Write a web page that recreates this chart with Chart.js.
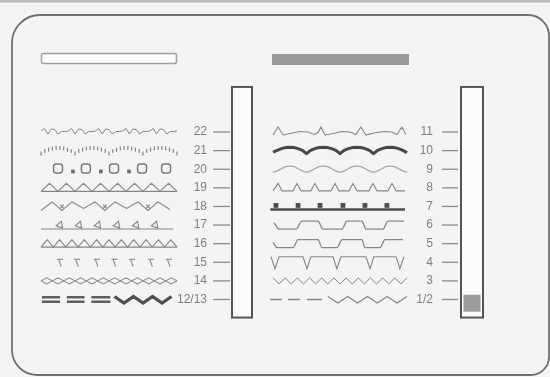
<!DOCTYPE html>
<html><head><meta charset="utf-8">
<script src="https://cdn.jsdelivr.net/npm/chart.js@4.4.1/dist/chart.umd.min.js"></script>
<style>
html,body{margin:0;padding:0;background:#f3f3f3;overflow:hidden;width:550px;height:377px}
#wrap{position:absolute;left:-20px;top:-20px;width:590px;height:417px}
</style></head><body>
<div id="wrap"><canvas id="c"></canvas></div>
<script>
// ---------------- data ----------------
const leftLabels  = ['22','21','20','19','18','17','16','15','14','12/13'];
const rightLabels = ['11','10','9','8','7','6','5','4','3','1/2'];
const selectedStitch = '1/2';

// stitch shapes: plain numbers = evenly spaced samples along the row,
// [u, v] pairs = u (0..100 along the row), v (stitch amplitude, up positive); null = gap
const stitch22 = [0.2,0.7,-0.4,0.6,0.5,-0.4,0.1,0.1, 0.2,0.7,-0.4,0.6,0.5,-0.4,0.1,0.1, 0.2,0.7,-0.4,0.6,0.5,-0.4,0.1,0.1, 0.2,0.7,-0.4,0.6,0.5,-0.4,0.1,0.1, 0.2,0.7,-0.4,0.6,0.5,-0.4,0.1,0.1, 0.2];
const stitch21 = [-0.6,-0.1,0.2,0.4,0.5,0.5,0.4,0.2,-0.1, -0.6,-0.1,0.2,0.4,0.5,0.5,0.4,0.2,-0.1, -0.6,-0.1,0.2,0.4,0.5,0.5,0.4,0.2,-0.1, -0.6,-0.1,0.2,0.4,0.5,0.5,0.4,0.2,-0.1, -0.6];
const stitch20Rings = [[12.5,0.15],[33,0.15],[53.7,0.15],[74.3,0.15],[92,0.15]];
const stitch20Knots = [[23.5,-0.45],[44,-0.45],[64.7,-0.45]];
const stitch19 = [-0.7,0.9,-0.7,0.9,-0.7,0.9,-0.7,0.9,-0.7,0.9,-0.7,0.9,-0.7,0.9,-0.7,0.9,-0.7];
const stitch19Base = [-0.7,-0.7];
const stitch18 = [[0,-0.8],[8.1,0.9],[15.4,-0.8],[22.8,0.9],[31.3,-0.4],[39.7,0.9],[47,-0.8],[54.4,0.9],[62.9,-0.4],[71.3,0.9],[78.7,-0.8],[86,0.9],[94.8,-0.6]];
const stitch18Knots = [[15.4,0],[47,0],[78.7,0]];
const stitch17Base = [[0,-0.8],[97,-0.8]];
const stitch17Loops = [[14,0],[28,0],[42,0],[56,0],[70,0],[84,0]];
const stitch16 = [-0.7,0.8,-0.7,0.8,-0.7,0.8,-0.7,0.8,-0.7,0.8,-0.7,0.8,-0.7,0.8,-0.7,0.8,-0.7,0.8,-0.7,0.8,-0.7,0.8,-0.7];
const stitch16Base = [-0.7,-0.7];
const stitch15Bars  = [[14,0.6],[26.5,0.6],[41,0.6],[54,0.6],[66.9,0.6],[81,0.6],[94,0.6]];
const stitch15Stems = [[14,-0.2],[26.5,-0.2],[41,-0.2],[54,-0.2],[66.9,-0.2],[81,-0.2],[94,-0.2]];
const stitch14a = [0,0.6,0,-0.6,0,0.6,0,-0.6,0,0.6,0,-0.6,0,0.6,0,-0.6,0,0.6,0,-0.6,0,0.6,0,-0.6,0];
const stitch14b = [0,-0.6,0,0.6,0,-0.6,0,0.6,0,-0.6,0,0.6,0,-0.6,0,0.6,0,-0.6,0,0.6,0,-0.6,0,0.6,0];
const stitch1213BarsTop = [[0.7,0.45],[14,0.45],null,[19,0.45],[32,0.45],null,[37,0.45],[51,0.45]];
const stitch1213BarsLow = [[0.7,-0.45],[14,-0.45],null,[19,-0.45],[32,-0.45],null,[37,-0.45],[51,-0.45]];
const stitch1213Zig = [[54,0.6],[61,-0.7],[68,0.6],[75,-0.7],[82,0.6],[89,-0.7],[96,0.6]];

const stitch11 = [[0,-0.6],[3.7,1.0],[7.5,-0.6],[12.7,-0.3],[20.1,0.1],[26.1,0],[30.6,-0.5],[33.6,-0.1],[35.8,1.0],[38.8,-0.6],[44.8,-0.3],[51.5,0.1],[57.4,0],[61.9,-0.5],[65.6,1.0],[69.4,-0.6],[75.3,-0.2],[82.8,0.1],[88.8,0],[92.5,-0.5],[96.2,1.0],[99.2,-0.5]];
const stitch10 = [-0.3,0.05,0.4,0.6,0.65,0.6,0.4,0.05, -0.6,0.05,0.4,0.6,0.65,0.6,0.4,0.05, -0.6,0.05,0.4,0.6,0.65,0.6,0.4,0.05, -0.6,0.05,0.4,0.6,0.65,0.6,0.4,0.05, -0.4];
const stitch9 = [-0.6,-0.35,0.1,0.5,0.6,0.5,0.1,-0.35, -0.6,-0.35,0.1,0.5,0.6,0.5,0.1,-0.35, -0.6,-0.35,0.1,0.5,0.6,0.5,0.1,-0.35, -0.6,-0.35,0.1,0.5,0.6,0.5,0.1,-0.35, -0.6];
const stitch8 = [[0,-0.6],[3.7,0.9],[6.7,-0.6],[14.9,-0.6],[17.9,0.9],[20.9,-0.6],[28.3,-0.6],[31.3,0.9],[34.3,-0.6],[43.3,-0.6],[46.3,0.9],[49.2,-0.6],[56.7,-0.6],[59.7,0.9],[62.7,-0.6],[71.6,-0.6],[74.6,0.9],[77.6,-0.6],[85.8,-0.6],[88.8,0.9],[91.8,-0.6],[98.5,-0.6]];
const stitch7Base = [[-2,-0.6],[98.5,-0.6]];
const stitch7Knots = [[2.2,0.2],[18.7,0.2],[35.1,0.2],[52.2,0.2],[68.6,0.2],[85,0.2]];
const stitch6 = [[0.7,0.5],[4.5,-0.8],[17.2,-0.8],[21.6,0.8],[33.6,0.8],[37.3,-0.8],[51.5,-0.8],[55.2,0.8],[66.4,0.8],[69.4,-0.8],[82.1,-0.8],[85.8,0.8],[97.7,0.8]];
const stitch5 = [[0,0.3],[3,-0.8],[14.9,-0.8],[18.7,0.8],[33.6,0.8],[36.6,-0.8],[47.7,-0.8],[51.5,0.8],[66.4,0.8],[68.6,-0.8],[79.8,-0.8],[83.6,0.8],[97,0.8]];
const stitch4 = [[-1.5,1.1],[1.5,-1.3],[4.5,1.1],[22.4,1.1],[25.4,-1.3],[28.3,1.1],[44.8,1.1],[47.7,-1.3],[50.7,1.1],[69.4,1.1],[72.4,-1.3],[75.3,1.1],[91.8,1.1],[94.7,-1.3],[97.7,1.1]];
const stitch3 = [0.6,-0.6,0.6,-0.6,0.6,-0.6,0.6,-0.6,0.6,-0.6,0.6,-0.6,0.6,-0.6,0.6,-0.6,0.6,-0.6,0.6,-0.6,0.6,-0.6,0.6];
const stitch12Dashes = [[-2.2,0],[6.7,0],null,[11.2,0],[20.1,0],null,[25.4,0],[36.6,0]];
const stitch12Zig = [[41,0.6],[48.4,-0.7],[55.7,0.6],[63.1,-0.7],[70.5,0.6],[77.8,-0.7],[85.2,0.6],[92.6,-0.7],[100,0.6]];

// ---------------- layout / style ----------------
const COLS = { L: {x0: 41, len: 136}, R: {x0: 273, len: 134} };
const ROW_PX = 18.61, FIRST_ROW_PX = 132, VIEW_W = 550, VIEW_H = 377;
const Y_MIN = -FIRST_ROW_PX / ROW_PX, Y_MAX = Y_MIN + VIEW_H / ROW_PX;
const AMP = 5 / ROW_PX;
const LABEL_X = { L: 207, R: 433 };
const DASH_X = { L: 221.5, R: 450 };
const SLOTS = { L: {x0: 232, x1: 252}, R: {x0: 461, x1: 483} };
const SLOT_ROWS = [-2.42, 9.97];
const GRAY = '#868686', DARK = '#474747', LABEL = '#808080';

function pts(shape, col, row) {
  const c = COLS[col];
  const uniform = typeof shape[0] === 'number';
  return shape.map((p, i) => {
    if (p === null) return {x: NaN, y: NaN};
    const u = uniform ? i * 100 / (shape.length - 1) : p[0];
    const v = uniform ? p : p[1];
    return {x: c.x0 + u * c.len / 100, y: row - v * AMP};
  });
}
const L = l => leftLabels.indexOf(l), R = l => rightLabels.indexOf(l);

function line(data, o) {
  return Object.assign({data, showLine: true, pointRadius: 0, borderColor: GRAY, borderWidth: 1.1, spanGaps: false, fill: false}, o || {});
}
function marks(data, o) {
  return Object.assign({data, showLine: false, pointRadius: 3, pointStyle: 'circle', pointBorderColor: GRAY,
    pointBackgroundColor: 'rgba(0,0,0,0)', pointBorderWidth: 1.1}, o || {});
}

const datasets = [
  // indicator of the selected stitch in the right slot
  marks([{x: (SLOTS.R.x0 + SLOTS.R.x1) / 2, y: R(selectedStitch) + 0.2}], {pointStyle: 'rect', pointRadius: 12, pointBackgroundColor: '#9c9c9c', pointBorderWidth: 0}),
  // tick dashes
  marks(leftLabels.map((_, i) => ({x: DASH_X.L, y: i})), {pointStyle: 'line', pointRadius: 8.5, pointBorderWidth: 1.3, pointBorderColor: '#8c8c8c'}),
  marks(rightLabels.map((_, i) => ({x: DASH_X.R, y: i})), {pointStyle: 'line', pointRadius: 8, pointBorderWidth: 1.3, pointBorderColor: '#8c8c8c'}),
  // left column
  line(pts(stitch22, 'L', L('22')), {borderWidth: 1}),
  marks(pts(stitch21, 'L', L('21')), {pointStyle: 'line', pointRotation: 90, pointRadius: 2, pointBorderWidth: 1.2}),
  marks(pts(stitch20Rings, 'L', L('20')), {pointStyle: 'rectRounded', pointRadius: 5.2, pointBorderWidth: 1.5, pointBorderColor: '#7a7a7a'}),
  marks(pts(stitch20Knots, 'L', L('20')), {pointStyle: 'rect', pointRadius: 2.6, pointBackgroundColor: '#6c6c6c', pointBorderWidth: 0}),
  line(pts(stitch19, 'L', L('19'))),
  line(pts(stitch19Base, 'L', L('19'))),
  line(pts(stitch18, 'L', L('18'))),
  marks(pts(stitch18Knots, 'L', L('18')), {pointStyle: 'crossRot', pointRadius: 2.6}),
  line(pts(stitch17Base, 'L', L('17'))),
  marks(pts(stitch17Loops, 'L', L('17')), {pointStyle: 'triangle', pointRotation: 20, pointRadius: 4}),
  line(pts(stitch16, 'L', L('16'))),
  line(pts(stitch16Base, 'L', L('16'))),
  marks(pts(stitch15Bars, 'L', L('15')), {pointStyle: 'line', pointRadius: 3}),
  marks(pts(stitch15Stems, 'L', L('15')), {pointStyle: 'line', pointRotation: 70, pointRadius: 3.6}),
  line(pts(stitch14a, 'L', L('14'))),
  line(pts(stitch14b, 'L', L('14'))),
  line(pts(stitch1213BarsTop, 'L', L('12/13')), {borderColor: '#5e5e5e', borderWidth: 2.3}),
  line(pts(stitch1213BarsLow, 'L', L('12/13')), {borderColor: '#5e5e5e', borderWidth: 2.3}),
  line(pts(stitch1213Zig, 'L', L('12/13')), {borderColor: '#505050', borderWidth: 3.2}),
  // right column
  line(pts(stitch11, 'R', R('11'))),
  line(pts(stitch10, 'R', R('10')), {borderColor: DARK, borderWidth: 3}),
  line(pts(stitch9, 'R', R('9')), {borderColor: '#a6a6a6', borderWidth: 1.3, cubicInterpolationMode: 'monotone'}),
  line(pts(stitch8, 'R', R('8'))),
  line(pts(stitch7Base, 'R', R('7')), {borderColor: '#4e4e4e', borderWidth: 2.6}),
  marks(pts(stitch7Knots, 'R', R('7')), {pointStyle: 'rect', pointRadius: 3.4, pointBackgroundColor: '#4e4e4e', pointBorderWidth: 0}),
  line(pts(stitch6, 'R', R('6')), {cubicInterpolationMode: 'monotone', borderWidth: 1.3}),
  line(pts(stitch5, 'R', R('5')), {cubicInterpolationMode: 'monotone', borderWidth: 1.3}),
  line(pts(stitch4, 'R', R('4'))),
  line(pts(stitch3, 'R', R('3')), {borderWidth: 1}),
  line(pts(stitch12Dashes, 'R', R('1/2')), {borderWidth: 1.4}),
  line(pts(stitch12Zig, 'R', R('1/2')), {borderWidth: 1.2})
];

function labelAxis(labels, col) {
  return {
    type: 'linear', axis: 'y', reverse: true, min: Y_MIN, max: Y_MAX,
    position: {x: LABEL_X[col]},
    afterBuildTicks: a => { a.ticks = labels.map((_, i) => ({value: i})); },
    ticks: {autoSkip: false, padding: 0, color: LABEL, font: {family: 'Liberation Sans', size: 12},
      callback: v => labels[v]},
    grid: {display: false, drawTicks: false},
    border: {display: false}
  };
}

const panel = {
  id: 'panel',
  beforeDraw(chart) {
    const ctx = chart.ctx, ca = chart.chartArea;
    const xs = chart.scales.x, ys = chart.scales.y;
    const P = (x, y) => [ca.left + x, ca.top + y];
    ctx.save();
    ctx.fillStyle = '#f4f4f4';
    ctx.fillRect(ca.left, ca.top, VIEW_W, VIEW_H);
    ctx.fillStyle = '#b9b9b9';
    ctx.fillRect(ca.left, ca.top, VIEW_W, 2.5);
    // outer frame
    ctx.strokeStyle = '#707070'; ctx.lineWidth = 1.8;
    ctx.beginPath();
    ctx.moveTo(...P(12, 45));
    ctx.arcTo(...P(12, 15), ...P(40, 15), 28);
    ctx.lineTo(...P(528, 15));
    ctx.arcTo(...P(549, 15), ...P(549, 36), 21);
    ctx.lineTo(...P(549, 355));
    ctx.arcTo(...P(549, 375), ...P(529, 375), 18);
    ctx.lineTo(...P(38, 375));
    ctx.arcTo(...P(12, 375), ...P(12, 349), 25);
    ctx.closePath();
    ctx.stroke();
    // header bars
    ctx.fillStyle = '#fbfbfb'; ctx.strokeStyle = '#a0a0a0'; ctx.lineWidth = 1.5;
    ctx.beginPath(); ctx.roundRect(...P(41.5, 53.5), 135, 10, 2); ctx.fill(); ctx.stroke();
    ctx.fillStyle = '#9a9a9a';
    ctx.fillRect(...P(272, 54), 137, 11);
    // slots
    for (const k of ['L', 'R']) {
      const s = SLOTS[k];
      const x0 = xs.getPixelForValue(s.x0), x1 = xs.getPixelForValue(s.x1);
      const y0 = ys.getPixelForValue(SLOT_ROWS[0]), y1 = ys.getPixelForValue(SLOT_ROWS[1]);
      ctx.fillStyle = '#fbfbfb'; ctx.strokeStyle = '#555'; ctx.lineWidth = 2;
      ctx.fillRect(x0, y0, x1 - x0, y1 - y0);
      ctx.strokeRect(x0, y0, x1 - x0, y1 - y0);
    }
    ctx.restore();
  }
};

new Chart(document.getElementById('c'), {
  type: 'scatter',
  data: {datasets},
  options: {
    responsive: true, maintainAspectRatio: false, animation: false,
    layout: {padding: 20},
    plugins: {legend: {display: false}, tooltip: {enabled: false}},
    elements: {line: {tension: 0}},
    scales: {
      x: {type: 'linear', min: 0, max: VIEW_W, display: false},
      y: {type: 'linear', reverse: true, min: Y_MIN, max: Y_MAX, display: false},
      yLabelsL: labelAxis(leftLabels, 'L'),
      yLabelsR: labelAxis(rightLabels, 'R')
    }
  },
  plugins: [panel]
});
</script>
</body></html>
